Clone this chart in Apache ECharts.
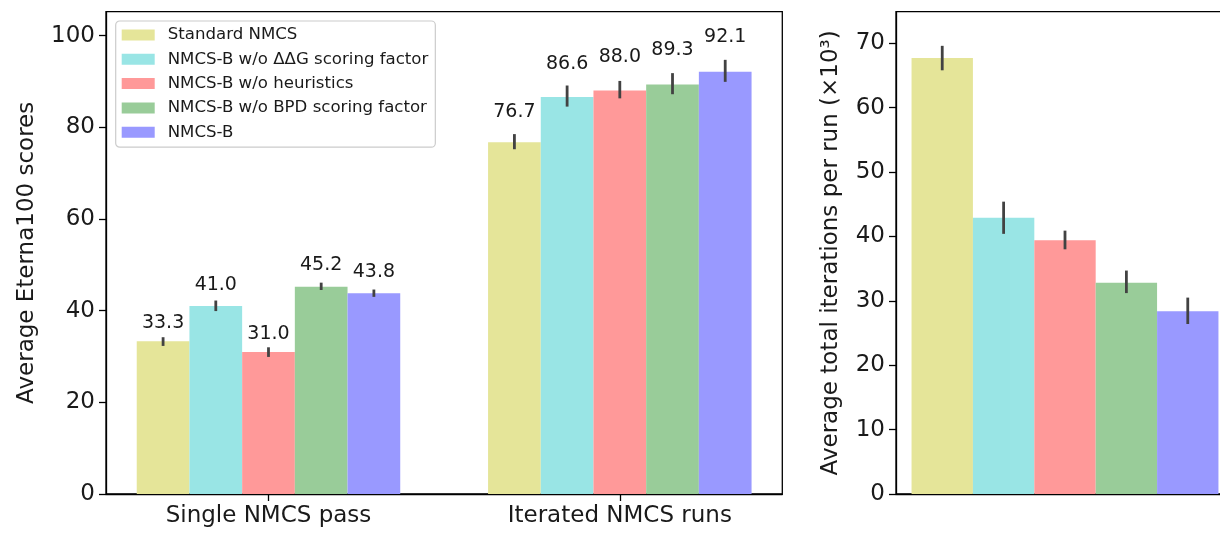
<!DOCTYPE html>
<html>
<head>
<meta charset="utf-8">
<script src="https://cdn.jsdelivr.net/npm/echarts@6/dist/echarts.min.js"></script>
<style>
html,body{margin:0;padding:0;background:#fff;}
#chart{width:1220px;height:536px;}
</style>
</head>
<body>
<div id="chart"></div>
<script>
// ---- data ----
const categories = ['Single NMCS pass', 'Iterated NMCS runs'];
const methods = ['Standard NMCS', 'NMCS-B w/o ΔΔG scoring factor', 'NMCS-B w/o heuristics', 'NMCS-B w/o BPD scoring factor', 'NMCS-B'];
const scores = [[33.3, 76.7], [41.0, 86.6], [31.0, 88.0], [45.2, 89.3], [43.8, 92.1]];
const scoreErrLow = [[32.3, 75.2], [39.9, 84.5], [29.9, 86.3], [44.5, 87.2], [43.0, 89.9]];
const scoreErrHigh = [[34.2, 78.5], [42.2, 89.1], [32.0, 90.1], [46.1, 91.8], [44.6, 94.7]];
const iterations = [67.7, 42.9, 39.4, 32.8, 28.4];
const iterErrLow = [65.8, 40.4, 38.0, 31.2, 26.4];
const iterErrHigh = [69.6, 45.4, 40.9, 34.7, 30.5];
const scoreTicks = [0, 20, 40, 60, 80, 100];
const iterTicks = [0, 10, 20, 30, 40, 50, 60, 70];
const colors = ['#e5e599', '#99e5e5', '#ff9999', '#99cc99', '#9999ff'];

const FONT = 'DejaVu Sans';
const TXT = '#1a1a1a';
const ERR = '#424242';
const BARW = 0.15; // bar width in x units (left panel)
const NB = methods.length;

const chart = echarts.init(document.getElementById('chart'), null, {renderer: 'canvas'});

const series = [];
methods.forEach((m, i) => {
  series.push({
    name: m, type: 'bar', xAxisIndex: 0, yAxisIndex: 0,
    data: categories.map((c, j) => [j, scores[i][j]]),
    barWidth: '15%', barGap: '0%',
    itemStyle: {color: colors[i]},
    emphasis: {disabled: true}, silent: true, animation: false
  });
});
methods.forEach((m, i) => {
  series.push({
    name: m, type: 'bar', xAxisIndex: 1, yAxisIndex: 1,
    data: [iterations[i]],
    barCategoryGap: '9.2%', barGap: '0%',
    itemStyle: {color: colors[i]},
    emphasis: {disabled: true}, silent: true, animation: false
  });
});

// error bars + value labels, left panel
const leftErrData = [];
methods.forEach((m, i) => categories.forEach((c, j) => {
  leftErrData.push([j, i, scores[i][j], scoreErrLow[i][j], scoreErrHigh[i][j]]);
}));
series.push({
  type: 'custom', xAxisIndex: 0, yAxisIndex: 0, silent: true, animation: false, z: 10,
  data: leftErrData,
  renderItem: function (params, api) {
    const cat = api.value(0), idx = api.value(1), val = api.value(2);
    const bw = api.size([BARW, 0])[0];
    const x = api.coord([cat, 0])[0] + (idx - (NB - 1) / 2) * bw;
    const yl = api.coord([cat, api.value(3)])[1];
    const yh = api.coord([cat, api.value(4)])[1];
    const yt = api.coord([cat, val * 1.06])[1];
    return {type: 'group', children: [
      {type: 'line', shape: {x1: x, y1: yl, x2: x, y2: yh}, style: {stroke: ERR, lineWidth: 2.8}},
      {type: 'text', x: x, y: yt, style: {text: val.toFixed(1), fill: TXT, font: '19px "' + FONT + '"', align: 'center', verticalAlign: 'bottom'}}
    ]};
  }
});
// error bars, right panel
const rightErrData = methods.map((m, i) => [0, i, iterations[i], iterErrLow[i], iterErrHigh[i]]);
series.push({
  type: 'custom', xAxisIndex: 1, yAxisIndex: 1, silent: true, animation: false, z: 10,
  data: rightErrData,
  renderItem: function (params, api) {
    const idx = api.value(1);
    const band = api.size([1, 0])[0];
    const bw = band * (1 - 0.092) / NB;
    const x = api.coord([0, 0])[0] + (idx - (NB - 1) / 2) * bw;
    const yl = api.coord([0, api.value(3)])[1];
    const yh = api.coord([0, api.value(4)])[1];
    return {type: 'line', shape: {x1: x, y1: yl, x2: x, y2: yh}, style: {stroke: ERR, lineWidth: 2.8}};
  }
});

const axisLine = {show: true, onZero: false, lineStyle: {color: '#000', width: 1.3}};
const tick = {show: true, length: 7, lineStyle: {color: '#000', width: 1.3}};

const option = {
  animation: false,
  backgroundColor: '#fff',
  textStyle: {fontFamily: FONT},
  grid: [
    {left: 106, top: 11.7, right: 437.7, bottom: 42, show: true, borderColor: '#000', borderWidth: 1.3, containLabel: false, outerBoundsMode: 'none'},
    {left: 896, top: 11.7, width: 338, bottom: 42, show: true, borderColor: '#000', borderWidth: 1.3, containLabel: false, outerBoundsMode: 'none'}
  ],
  legend: {
    show: true, orient: 'vertical', left: 115.7, top: 21,
    data: methods,
    itemWidth: 33, itemHeight: 11, itemGap: 6.3,
    icon: 'rect',
    backgroundColor: 'rgba(255,255,255,0.8)', borderColor: '#cccccc', borderWidth: 1.2, borderRadius: 4,
    padding: [5, 7, 6, 6],
    textStyle: {fontFamily: FONT, fontSize: 16.6, color: TXT, lineHeight: 18, padding: [0, 0, 0, 8]},
    selectedMode: false
  },
  xAxis: [
    {
      type: 'value', gridIndex: 0, min: -0.4625, max: 1.4625,
      axisLine: axisLine, splitLine: {show: false},
      axisTick: Object.assign({}, tick, {customValues: [0, 1]}),
      axisLabel: {customValues: [0, 1], formatter: v => categories[Math.round(v)] || '', fontFamily: FONT, fontSize: 23, color: TXT, margin: 11}
    },
    {
      type: 'category', gridIndex: 1, data: [''],
      axisLine: axisLine, axisTick: {show: false}, axisLabel: {show: false}, splitLine: {show: false}
    }
  ],
  yAxis: [
    {
      type: 'value', gridIndex: 0, min: 0, max: 105.2,
      name: 'Average Eterna100 scores', nameLocation: 'middle', nameGap: 67,
      nameTextStyle: {fontFamily: FONT, fontSize: 23, color: TXT},
      axisLine: axisLine, splitLine: {show: false},
      axisTick: Object.assign({}, tick, {customValues: scoreTicks}),
      axisLabel: {customValues: scoreTicks, fontFamily: FONT, fontSize: 23, color: TXT, margin: 11}
    },
    {
      type: 'value', gridIndex: 1, min: 0, max: 74.9,
      name: 'Average total iterations per run (×10³)', nameLocation: 'middle', nameGap: 53,
      nameTextStyle: {fontFamily: FONT, fontSize: 23, color: TXT},
      axisLine: axisLine, splitLine: {show: false},
      axisTick: Object.assign({}, tick, {customValues: iterTicks}),
      axisLabel: {customValues: iterTicks, fontFamily: FONT, fontSize: 23, color: TXT, margin: 11}
    }
  ],
  series: series
};
chart.setOption(option);
</script>
</body>
</html>
